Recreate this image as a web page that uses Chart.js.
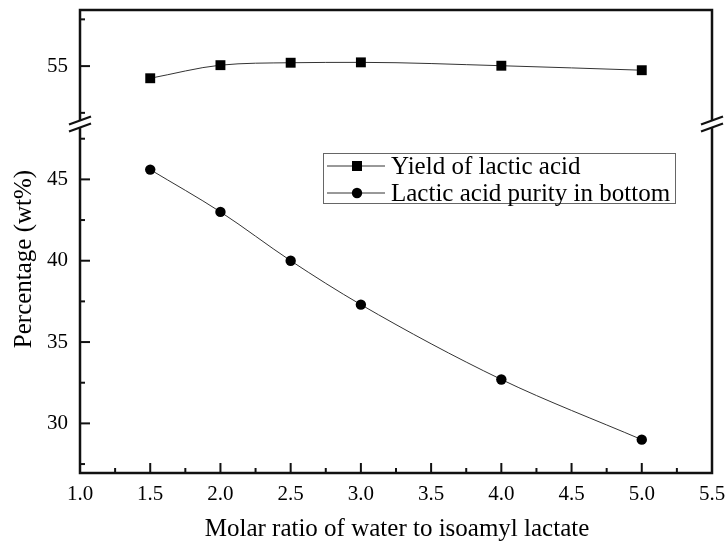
<!DOCTYPE html>
<html lang="en">
<head>
    <meta charset="UTF-8">
    <title>Lactic acid yield and purity</title>
    <style>
        html, body { margin: 0; padding: 0; background: #fff; }
        #wrap { width: 728px; height: 550px; }
    </style>
</head>
<body>
    <div id="wrap"><canvas id="chart" width="728" height="550"></canvas></div>
    <script src="https://cdn.jsdelivr.net/npm/chart.js"></script>
    <script>
        // values
        const molarRatio = [1.5, 2.0, 2.5, 3.0, 4.0, 5.0];
        const yieldLactic = [54.35, 55.05, 55.18, 55.2, 55.02, 54.78];
        const purityBottom = [45.6, 43.0, 40.0, 37.3, 32.7, 29.0];
        const seriesNames = ['Yield of lactic acid', 'Lactic acid purity in bottom'];
        const xTitle = 'Molar ratio of water to isoamyl lactate';
        const yTitle = 'Percentage (wt%)';

        const serif = "'Liberation Serif', 'Times New Roman', serif";

        function toPoints(ys) {
            return molarRatio.map((x, i) => ({ x: x, y: ys[i] }));
        }

        // frame, inward ticks, axis break, legend and axis titles
        const decorations = {
            id: 'decorations',
            afterDraw(chart) {
                const ctx = chart.ctx;
                const area = chart.chartArea;
                const sx = chart.scales.x;
                const yt = chart.scales.yTop;
                const yb = chart.scales.yBot;
                ctx.save();

                // ticks
                ctx.strokeStyle = '#111';
                ctx.lineWidth = 2;
                for (let v = 1.25; v < 5.5; v += 0.25) {
                    const px = sx.getPixelForValue(v);
                    const len = Math.abs(v * 2 - Math.round(v * 2)) < 1e-6 ? 10 : 5;
                    ctx.beginPath();
                    ctx.moveTo(px, area.bottom);
                    ctx.lineTo(px, area.bottom - len);
                    ctx.stroke();
                }
                const yTicks = [[yb, 27.5, 47.5], [yt, 52.5, 57.5]];
                yTicks.forEach(([sc, from, to]) => {
                    for (let v = from; v <= to + 1e-6; v += 2.5) {
                        const py = sc.getPixelForValue(v);
                        const len = Math.abs(v / 5 - Math.round(v / 5)) < 1e-6 ? 10 : 5;
                        ctx.beginPath();
                        ctx.moveTo(area.left, py);
                        ctx.lineTo(area.left + len, py);
                        ctx.stroke();
                    }
                });

                // frame
                ctx.lineWidth = 2.5;
                ctx.strokeRect(area.left, area.top, area.right - area.left, area.bottom - area.top);

                // axis break on both sides
                const by = yt.bottom;
                [area.left, area.right].forEach(bx => {
                    ctx.fillStyle = '#fff';
                    ctx.fillRect(bx - 3, by - 4, 6, 8);
                    ctx.strokeStyle = '#111';
                    ctx.lineWidth = 2.2;
                    [-3.5, 3.5].forEach(d => {
                        ctx.beginPath();
                        ctx.moveTo(bx - 11, by + d + 4);
                        ctx.lineTo(bx + 11, by + d - 4);
                        ctx.stroke();
                    });
                });

                // legend
                const lg = { left: 323, top: 153, right: 675, bottom: 203 };
                ctx.strokeStyle = '#666';
                ctx.lineWidth = 1;
                ctx.strokeRect(lg.left + 0.5, lg.top + 0.5, lg.right - lg.left, lg.bottom - lg.top);
                ctx.font = '25px ' + serif;
                ctx.textBaseline = 'middle';
                ctx.textAlign = 'left';
                chart.data.datasets.forEach((ds, i) => {
                    const ry = 166 + i * 27;
                    ctx.strokeStyle = ds.borderColor;
                    ctx.lineWidth = ds.borderWidth;
                    ctx.beginPath();
                    ctx.moveTo(327, ry);
                    ctx.lineTo(385, ry);
                    ctx.stroke();
                    ctx.fillStyle = '#000';
                    ctx.beginPath();
                    if (ds.pointStyle === 'rect') {
                        ctx.rect(352, ry - 5, 10, 10);
                    } else {
                        ctx.arc(357, ry, 5.2, 0, Math.PI * 2);
                    }
                    ctx.fill();
                    ctx.fillText(ds.label, 391, ry + 1);
                });

                // axis titles
                ctx.fillStyle = '#000';
                ctx.font = '25px ' + serif;
                ctx.textAlign = 'center';
                ctx.textBaseline = 'middle';
                ctx.fillText(xTitle, 397, 529);
                ctx.translate(24, 259);
                ctx.rotate(-Math.PI / 2);
                ctx.fillText(yTitle, 0, 0);
                ctx.restore();
            }
        };

        const tickFont = { family: serif, size: 21 };

        // fixed axis sizes, and no extra room for overhanging labels
        function fitX(s) {
            s.height = 77;
            s.paddingLeft = 0;
            s.paddingRight = 0;
        }
        function fitY(s) {
            s.width = 80;
            s.paddingTop = 0;
            s.paddingBottom = 0;
        }

        new Chart(document.getElementById('chart'), {
            type: 'line',
            data: {
                datasets: [{
                    label: seriesNames[0],
                    data: toPoints(yieldLactic),
                    yAxisID: 'yTop',
                    borderColor: '#333',
                    borderWidth: 1,
                    pointStyle: 'rect',
                    pointRadius: 7,
                    pointBackgroundColor: '#000',
                    pointBorderColor: '#000',
                    pointBorderWidth: 0,
                    cubicInterpolationMode: 'monotone'
                }, {
                    label: seriesNames[1],
                    data: toPoints(purityBottom),
                    yAxisID: 'yBot',
                    borderColor: '#333',
                    borderWidth: 1,
                    pointStyle: 'circle',
                    pointRadius: 5.2,
                    pointBackgroundColor: '#000',
                    pointBorderColor: '#000',
                    pointBorderWidth: 0,
                    cubicInterpolationMode: 'monotone'
                }]
            },
            options: {
                responsive: false,
                animation: false,
                layout: { padding: { top: 10, right: 16, left: 0, bottom: 0 } },
                plugins: {
                    legend: { display: false },
                    tooltip: { enabled: false }
                },
                scales: {
                    x: {
                        type: 'linear',
                        min: 1.0,
                        max: 5.5,
                        grid: { display: false, drawTicks: false },
                        border: { display: false },
                        ticks: {
                            stepSize: 0.5,
                            padding: 9,
                            color: '#000',
                            font: tickFont,
                            maxRotation: 0,
                            callback: v => v.toFixed(1)
                        },
                        afterFit: fitX
                    },
                    yBot: {
                        type: 'linear',
                        position: 'left',
                        stack: 'y',
                        stackWeight: 348.7,
                        min: 26.95,
                        max: 48.4,
                        grid: { display: false, drawTicks: false },
                        border: { display: false },
                        ticks: {
                            stepSize: 5,
                            includeBounds: false,
                            padding: 12,
                            color: '#000',
                            font: tickFont
                        },
                        afterFit: fitY
                    },
                    yTop: {
                        type: 'linear',
                        position: 'left',
                        stack: 'y',
                        stackWeight: 114,
                        min: 51.9,
                        max: 58.0,
                        grid: { display: false, drawTicks: false },
                        border: { display: false },
                        ticks: {
                            stepSize: 5,
                            includeBounds: false,
                            padding: 12,
                            color: '#000',
                            font: tickFont
                        },
                        afterFit: fitY
                    }
                }
            },
            plugins: [decorations]
        });
    </script>
</body>
</html>
